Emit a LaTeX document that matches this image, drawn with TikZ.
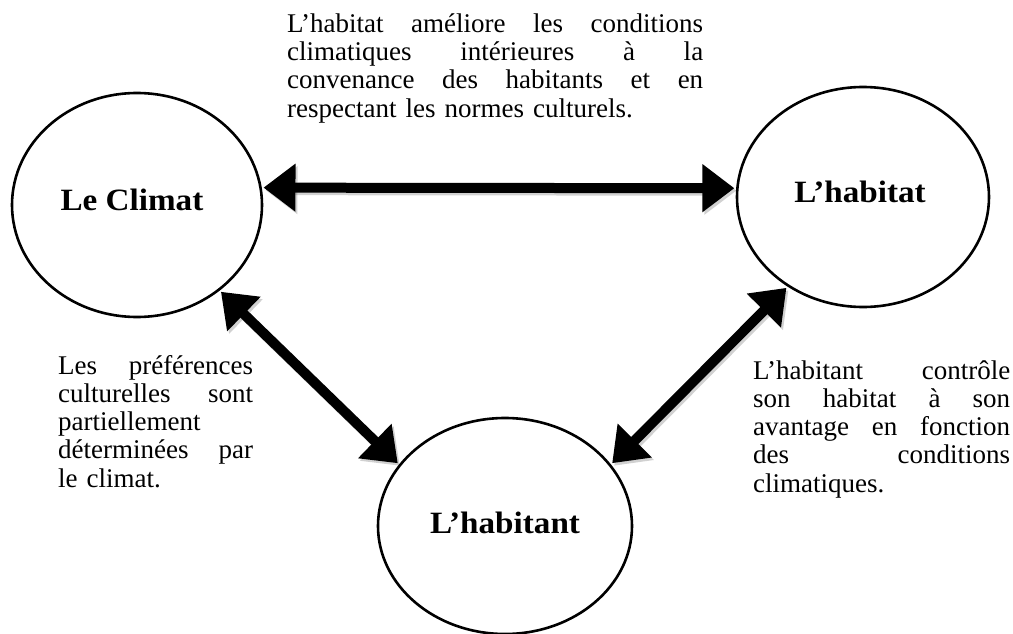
\documentclass[tikz,border=0pt]{standalone}
\usepackage{fontspec}
\setmainfont{Liberation Serif}
\newfontfamily\labelfont[FakeStretch=1.07]{Liberation Serif}
\usetikzlibrary{arrows.meta,shapes.geometric}

% one line stretched to a given width (stretchable word spaces)
\newcommand{\justline}[2]{\makebox[#1][s]{\spaceskip=.25em plus 1fil\relax #2}}

\begin{document}
\begin{tikzpicture}[x=1pt,y=-1pt,
  zone/.style={ellipse,draw,line width=2.6pt,inner sep=0pt,outer sep=0pt},
  circtext/.style={anchor=base,inner sep=0pt,font=\labelfont\bfseries\fontsize{31}{36}\selectfont},
  bodytext/.style={anchor=north west,inner sep=0pt,align=left,font=\fontsize{27}{28.3}\selectfont},
  link/.style={line width=10pt,shorten <=3pt,shorten >=3pt,
    {Triangle[length=32pt,width=46pt]}-{Triangle[length=32pt,width=46pt]}},
  linkshadow/.style={link,draw=black,opacity=0.18,transform canvas={shift={(2,2.5)}}},
]
\useasboundingbox (0,0) rectangle (1013,634);

% the three ellipses
\node[zone,minimum width=250pt,minimum height=224pt] (clim) at (137,205) {};
\node[zone,minimum width=252pt,minimum height=220pt] (hab) at (863,197) {};
\node[zone,minimum width=254pt,minimum height=216pt] (hbt) at (505,526) {};

% their labels
\node[circtext] (climlabel) at (132,210) {Le Climat};
\node[circtext] (hablabel) at (860,202) {L’habitat};
\node[circtext] (hbtlabel) at (505,533) {L’habitant};

% soft shadows under the double arrows
\draw[linkshadow] (clim.8) -- (hab.176);
\draw[linkshadow] (clim.-46) -- (hbt.150);
\draw[linkshadow] (hab.230) -- (hbt.30);

% double arrows between the ellipses
\draw[link] (clim.8) -- (hab.176);
\draw[link] (clim.-46) -- (hbt.150);
\draw[link] (hab.230) -- (hbt.30);

% explanatory texts
\node[bodytext,text width=416pt] (topnote) at (287,12.2) {%
\justline{416pt}{\strut L’habitat améliore les conditions}\\
\justline{416pt}{climatiques intérieures à la}\\
\justline{416pt}{convenance des habitants et en}\\
respectant les normes culturels.};

\node[bodytext,text width=195pt] (leftnote) at (58,354) {%
\justline{195pt}{\strut Les préférences}\\
\justline{195pt}{culturelles sont}\\
partiellement\\
\justline{195pt}{déterminées par}\\
le climat.};

\node[bodytext,text width=257pt] (rightnote) at (753,359) {%
\justline{257pt}{\strut L’habitant contrôle}\\
\justline{257pt}{son habitat à son}\\
\justline{257pt}{avantage en fonction}\\
\justline{257pt}{des conditions}\\
climatiques.};
\end{tikzpicture}
\end{document}
